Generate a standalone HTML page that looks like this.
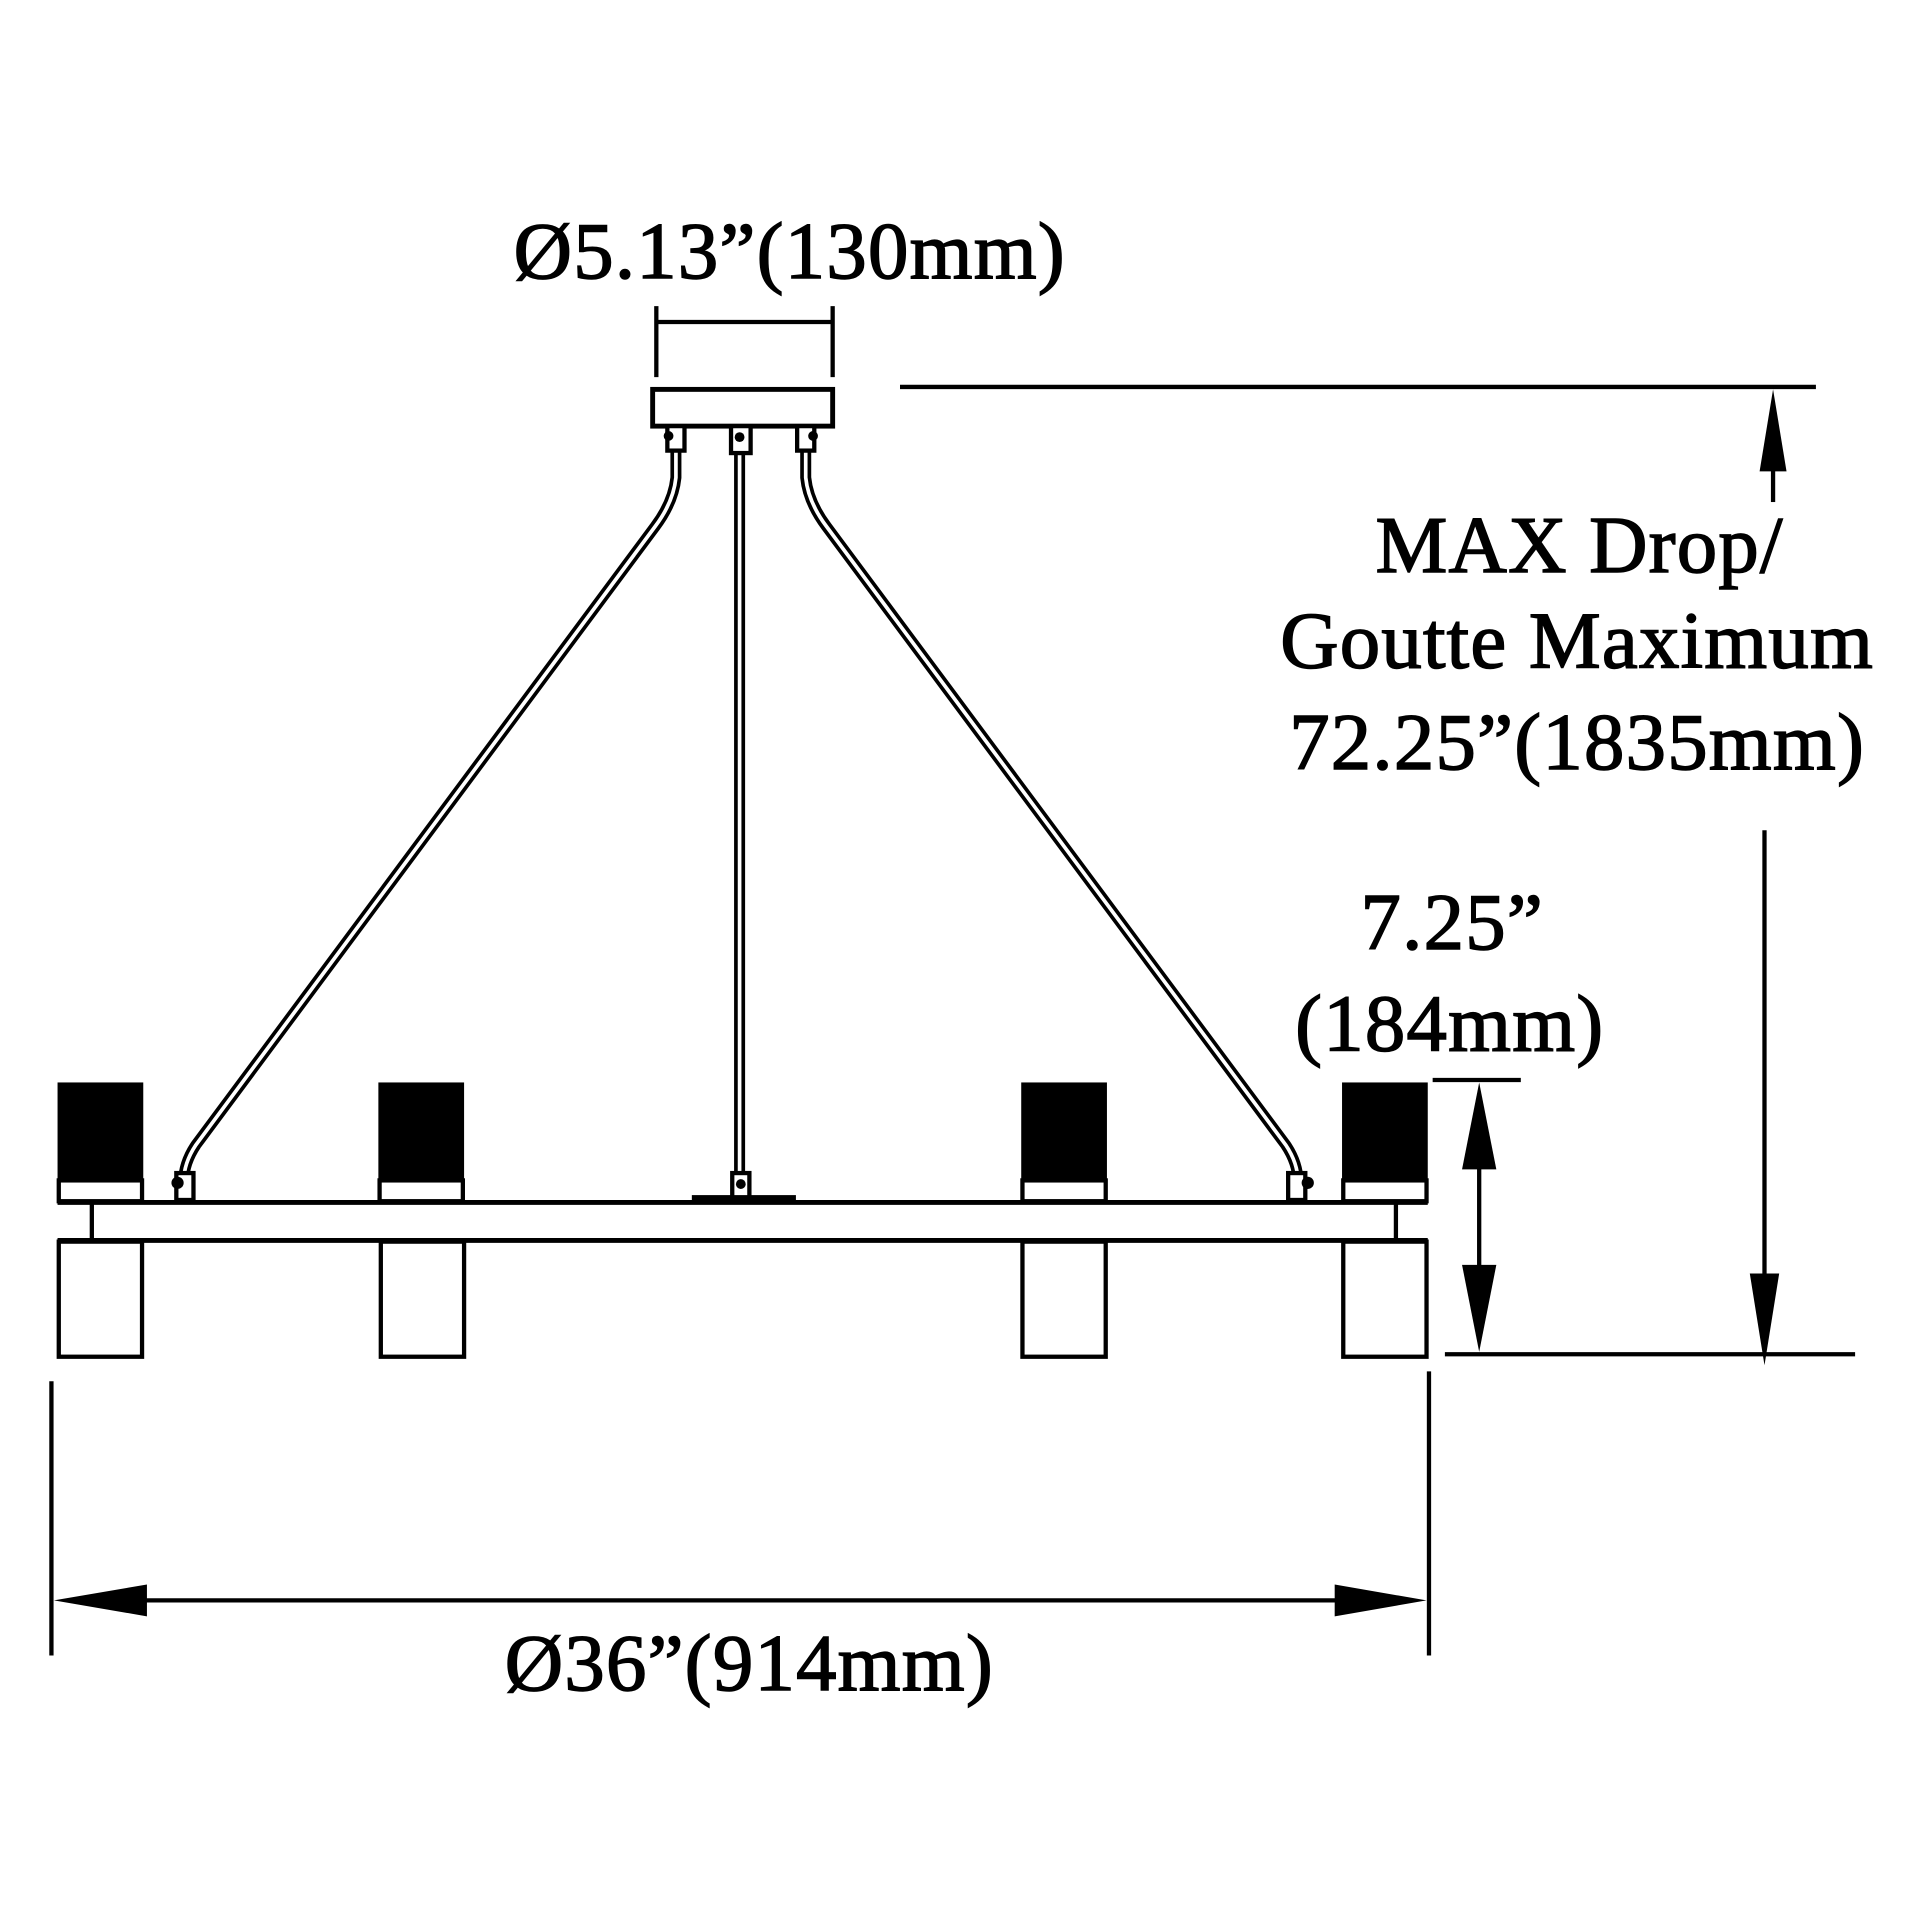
<!DOCTYPE html>
<html><head><meta charset="utf-8"><style>html,body{margin:0;padding:0;background:#fff}svg{display:block}</style></head>
<body>
<svg width="1920" height="1920" viewBox="0 0 1568 1568" xmlns="http://www.w3.org/2000/svg">
<rect width="1568" height="1568" fill="#fff"/>
<g font-family="Liberation Serif, serif" font-size="66" fill="#000" stroke="#000" stroke-width="1.2" text-anchor="middle" letter-spacing="1">
<text x="645" y="227">Ø5.13”(130mm)</text>
<text x="1290" y="467">MAX Drop/</text>
<text x="1288" y="545">Goutte Maximum</text>
<text x="1288" y="628">72.25”(1835mm)</text>
<text x="1186" y="775">7.25”</text>
<text x="1184" y="858">(184mm)</text>
<text x="612" y="1380">Ø36”(914mm)</text>
</g>
<g stroke="#000" stroke-width="3.5" fill="none">
<line x1="536" y1="250" x2="536" y2="308"/><line x1="680" y1="250" x2="680" y2="308"/>
<line x1="536" y1="263" x2="680" y2="263"/>
<rect x="533" y="318" width="147" height="30" stroke-width="4"/>
<path d="M552 368 L552 390 Q550 410 535 430 L160 935 Q150 950 150 965" stroke-width="9"/>
<path d="M552 368 L552 390 Q550 410 535 430 L160 935 Q150 950 150 965" stroke="#fff" stroke-width="3"/>
<path d="M658 368 L658 390 Q660 410 675 430 L1050 935 Q1060 950 1060 965" stroke-width="9"/>
<path d="M658 368 L658 390 Q660 410 675 430 L1050 935 Q1060 950 1060 965" stroke="#fff" stroke-width="3"/>
<line x1="604" y1="360" x2="604" y2="978" stroke-width="9"/>
<line x1="604" y1="360" x2="604" y2="978" stroke="#fff" stroke-width="3"/>
<rect x="545" y="348" width="14" height="20" fill="#fff"/>
<rect x="597" y="348" width="16" height="22" fill="#fff"/>
<rect x="651" y="348" width="14" height="20" fill="#fff"/>
<rect x="144" y="958" width="14" height="22" fill="#fff"/>
<rect x="598" y="958" width="14" height="22" fill="#fff"/>
<rect x="1052" y="958" width="14" height="22" fill="#fff"/>
<line x1="47" y1="982" x2="1166" y2="982" stroke-width="4"/>
<line x1="47" y1="1013" x2="1166" y2="1013" stroke-width="4"/>
<line x1="75" y1="982" x2="75" y2="1013"/><line x1="1140" y1="982" x2="1140" y2="1013"/>
<rect x="48" y="1014" width="68" height="94"/>
<rect x="311" y="1014" width="68" height="94"/>
<rect x="835" y="1014" width="68" height="94"/>
<rect x="1097" y="1014" width="68" height="94"/>
<rect x="48" y="964" width="68" height="17"/>
<rect x="310" y="964" width="68" height="17"/>
<rect x="835" y="964" width="68" height="17"/>
<rect x="1097" y="964" width="68" height="17"/>
<line x1="735" y1="316" x2="1483" y2="316"/>
<line x1="1448" y1="380" x2="1448" y2="410"/>
<line x1="1441" y1="678" x2="1441" y2="1060"/>
<line x1="1180" y1="1106" x2="1515" y2="1106"/>
<line x1="1170" y1="882" x2="1242" y2="882"/>
<line x1="1208" y1="950" x2="1208" y2="1040"/>
<line x1="42" y1="1128" x2="42" y2="1352"/>
<line x1="1167" y1="1120" x2="1167" y2="1352"/>
<line x1="100" y1="1307" x2="1110" y2="1307"/>
</g>
<g fill="#000">
<rect x="47" y="884" width="70" height="81"/>
<rect x="309" y="884" width="70" height="81"/>
<rect x="834" y="884" width="70" height="81"/>
<rect x="1096" y="884" width="70" height="81"/>
<circle cx="546" cy="356" r="4"/><circle cx="604" cy="357" r="4"/><circle cx="664" cy="356" r="4"/>
<circle cx="145" cy="966" r="5"/><circle cx="605" cy="967" r="4"/><circle cx="1068" cy="966" r="5"/>
<rect x="565" y="976" width="85" height="4"/>
<polygon points="1448,318 1437,385 1459,385"/>
<polygon points="1441,1115 1429,1040 1453,1040"/>
<polygon points="1208,884 1194,955 1222,955"/>
<polygon points="1208,1104 1194,1033 1222,1033"/>
<polygon points="44,1307 120,1294 120,1320"/>
<polygon points="1165,1307 1090,1294 1090,1320"/>
</g>
</svg>
</body></html>
